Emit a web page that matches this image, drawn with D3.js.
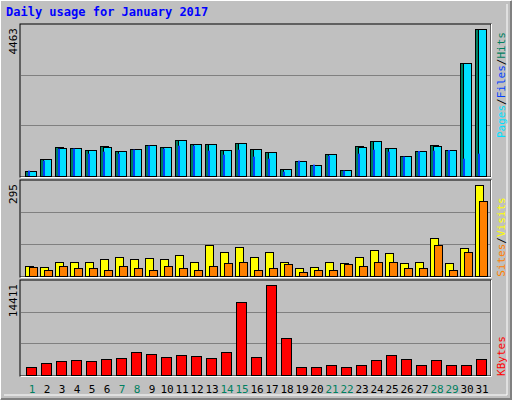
<!DOCTYPE html>
<html><head><meta charset="utf-8">
<script src="https://cdn.jsdelivr.net/npm/d3@7"></script>
<style>body{margin:0;background:#fff}</style>
</head><body><div id="chart"></div>
<script>
var days = d3.range(1, 32);
var weekend = [1,7,8,14,15,21,22,28,29];
var hits  = [162,516,890,860,789,920,759,830,941,890,1103,971,971,789,1012,830,739,212,465,344,678,182,920,1062,860,617,759,951,789,3441,4463];
var files = [162,516,860,860,789,890,759,830,941,890,1103,971,971,789,1012,830,739,212,465,344,678,182,890,1062,860,617,759,920,789,3441,4463];
var pages = [162,465,830,830,678,739,678,799,920,830,920,920,769,647,799,587,526,131,465,344,617,162,678,799,739,587,759,769,789,526,678];
var visits = [32,28,47,47,44,54,63,54,57,54,67,44,102,79,95,63,79,47,25,28,44,41,63,83,76,41,44,124,41,92,295];
var sites  = [28,21,31,25,25,21,34,25,21,31,25,18,31,41,44,21,25,38,12,18,21,38,31,47,47,25,25,102,18,79,243];
var kbytes = [1267,1900,2217,2375,2217,2534,2692,3642,3325,2850,3167,3009,2692,3642,11719,2850,14411,5860,1267,1267,1584,1267,1584,2375,3167,2534,1584,2375,1584,1584,2534];

var svg = d3.select("#chart").append("svg").attr("width", 512).attr("height", 400)
  .style("font-family", "'DejaVu Sans Mono', monospace");

svg.append("rect").attr("width", 512).attr("height", 400).attr("fill", "#c0c0c0");
svg.append("path").attr("d", "M0,399V0H511").attr("stroke", "#fff").attr("fill", "none").attr("stroke-width", 2);
svg.append("path").attr("d", "M1,399H511V1").attr("stroke", "#808080").attr("fill", "none").attr("stroke-width", 2);
svg.append("path").attr("d", "M4,395H507V4").attr("stroke", "#fff").attr("fill", "none");

svg.append("text").attr("x", 6).attr("y", 16).attr("fill", "#0000ff").attr("font-weight", "bold")
  .attr("font-size", 12).text("Daily usage for January 2017");

var x = d3.scaleLinear().domain([1, 31]).range([25, 475]);

function panel(top, bottom, max) {
  svg.append("rect").attr("x", 20).attr("y", top).attr("width", 471).attr("height", bottom - top + 1)
    .attr("fill", "#c0c0c0").attr("stroke", "#000");
  svg.append("path").attr("d", "M20.5," + (bottom + 1.5) + "H491.5V" + top).attr("stroke", "#fff").attr("fill", "none");
  var y = d3.scaleLinear().domain([0, max]).range([bottom, top + 5]);
  [1, 2].forEach(function(k) {
    var gy = Math.round(bottom - (bottom - top) * k / 3) + 0.5;
    svg.append("line").attr("x1", 21).attr("x2", 490).attr("y1", gy).attr("y2", gy).attr("stroke", "#808080");
  });
  svg.append("text").attr("transform", "translate(17," + (top + 4) + ") rotate(-90)")
    .attr("text-anchor", "end").attr("font-size", 11).attr("fill", "#000").text(max);
  return y;
}

function bars(data, y, dx, w, color, bottom) {
  svg.append("g").selectAll("rect").data(data).join("rect")
    .attr("x", function(d, i) { return x(days[i]) + dx + 0.5; })
    .attr("y", function(d) { return Math.round(y(d)) + 0.5; })
    .attr("width", w)
    .attr("height", function(d) { return bottom - Math.round(y(d)); })
    .attr("fill", color).attr("stroke", "#000");
}

function sideLabel(cy, parts) {
  var t = svg.append("text").attr("transform", "translate(505," + cy + ") rotate(-90)")
    .attr("text-anchor", "middle").attr("font-size", 11);
  parts.forEach(function(p) { t.append("tspan").attr("fill", p[1]).text(p[0]); });
}

var y1 = panel(24, 176, 4463);
bars(hits, y1, 0, 8, "#008060", 176);
bars(files, y1, 3, 8, "#00e0ff", 176);
svg.append("g").selectAll("rect").data(pages).join("rect")
  .attr("x", function(d, i) { return x(days[i]) + 3; })
  .attr("y", function(d) { return y1(d); })
  .attr("width", 2)
  .attr("height", function(d) { return 176 - y1(d); })
  .attr("fill", "#0040ff");
sideLabel(85, [["Pages", "#00e0ff"], ["/", "#000"], ["Files", "#0040ff"], ["/", "#000"], ["Hits", "#008060"]]);

var y2 = panel(180, 276, 295);
bars(visits, y2, 0, 8, "#ffff00", 276);
bars(sites, y2, 4, 8, "#ff8000", 276);
sideLabel(237, [["Sites", "#ff8000"], ["/", "#000"], ["Visits", "#ffff00"]]);

var y3 = panel(280, 375, 14411);
bars(kbytes, y3, 1, 10, "#ff0000", 375);
sideLabel(356, [["KBytes", "#ff0000"]]);

svg.append("g").selectAll("text").data(days).join("text")
  .attr("x", function(d) { return x(d) + 7; })
  .attr("y", 393).attr("text-anchor", "middle").attr("font-size", 11)
  .attr("fill", function(d) { return weekend.indexOf(d) >= 0 ? "#008060" : "#000"; })
  .text(function(d) { return d; });
</script>
</body></html>
